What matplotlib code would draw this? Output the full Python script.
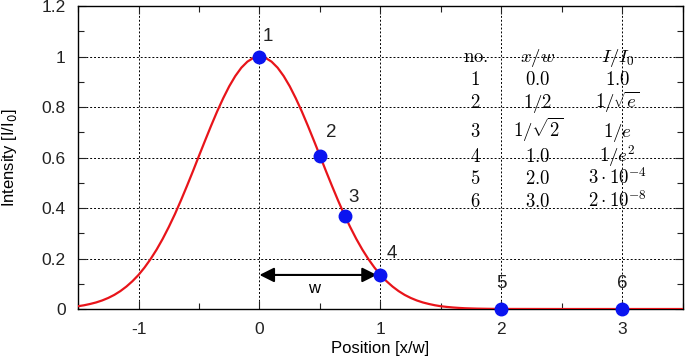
import matplotlib
matplotlib.use("Agg")
import matplotlib.pyplot as plt

# ---- data ----
curve_x = [-1.5, -1.45, -1.4, -1.35, -1.3, -1.25, -1.2, -1.15, -1.1, -1.05,
           -1.0, -0.95, -0.9, -0.85, -0.8, -0.75, -0.7, -0.65, -0.6, -0.55,
           -0.5, -0.45, -0.4, -0.35, -0.3, -0.25, -0.2, -0.15, -0.1, -0.05,
           0.0, 0.05, 0.1, 0.15, 0.2, 0.25, 0.3, 0.35, 0.4, 0.45,
           0.5, 0.55, 0.6, 0.65, 0.7, 0.75, 0.8, 0.85, 0.9, 0.95,
           1.0, 1.05, 1.1, 1.15, 1.2, 1.25, 1.3, 1.35, 1.4, 1.45,
           1.5, 1.55, 1.6, 1.65, 1.7, 1.75, 1.8, 1.85, 1.9, 1.95,
           2.0, 2.5, 3.0, 3.5]
curve_y = [0.011, 0.0149, 0.020, 0.0261, 0.034, 0.0439, 0.056, 0.0710, 0.089, 0.1103,
           0.135, 0.1645, 0.198, 0.2357, 0.278, 0.3247, 0.375, 0.4296, 0.487, 0.5461,
           0.607, 0.6670, 0.726, 0.7827, 0.835, 0.8825, 0.923, 0.9560, 0.980, 0.9950,
           1.000, 0.9950, 0.980, 0.9560, 0.923, 0.8825, 0.835, 0.7827, 0.726, 0.6670,
           0.607, 0.5461, 0.487, 0.4296, 0.375, 0.3247, 0.278, 0.2357, 0.198, 0.1645,
           0.135, 0.1103, 0.089, 0.0710, 0.056, 0.0439, 0.034, 0.0261, 0.020, 0.0149,
           0.011, 0.0082, 0.006, 0.0043, 0.003, 0.0022, 0.0015, 0.0011, 0.0007, 0.0005,
           0.0003, 0.0, 0.0, 0.0]

point_x = [0.0, 0.5, 0.707, 1.0, 2.0, 3.0]
point_y = [1.0, 0.607, 0.368, 0.135, 0.0003, 0.0]
point_labels = ["1", "2", "3", "4", "5", "6"]
label_x = [0.07, 0.59, 0.78, 1.09, 2.0, 3.0]
label_y = [1.08, 0.70, 0.44, 0.22, 0.10, 0.10]

table_header = [r"$\mathrm{no.}$", r"$x/w$", r"$I/I_0$"]
table_no = [r"$1$", r"$2$", r"$3$", r"$4$", r"$5$", r"$6$"]
table_xw = [r"$0.0$", r"$1/2$", r"$1/\sqrt{2}$", r"$1.0$", r"$2.0$", r"$3.0$"]
table_I = [r"$1.0$", r"$1/\sqrt{e}$", r"$1/e$", r"$1/e^2$", r"$3\cdot10^{-4}$", r"$2\cdot10^{-8}$"]

xticks = [-1, 0, 1, 2, 3]
yticks = [0, 0.2, 0.4, 0.6, 0.8, 1.0, 1.2]
ytick_labels = ["0", "0.2", "0.4", "0.6", "0.8", "1", "1.2"]

plt.rcParams['font.family'] = ['Liberation Sans', 'DejaVu Sans']
plt.rcParams['mathtext.fontset'] = 'cm'

fig = plt.figure(figsize=(6.85, 3.61), dpi=100)
ax = fig.add_axes([0.1139, 0.144, 0.883, 0.839])

ax.plot(curve_x, curve_y, color='#e8141a', lw=1.6, zorder=3)
ax.plot(point_x, point_y, 'o', color='#0a14f0', ms=9, zorder=4, clip_on=False)
for lx, ly, t in zip(label_x, label_y, point_labels):
    ax.text(lx, ly, t, fontsize=13.5, ha='center', va='center', color='#222222')

ax.annotate('', xy=(0.0, 0.135), xytext=(0.97, 0.135),
            arrowprops=dict(arrowstyle='<|-|>', color='black', lw=1.5,
                            mutation_scale=22, shrinkA=0, shrinkB=0))
ax.text(0.45, 0.083, 'w', fontsize=12, ha='center', va='center')

# table
col_x = [1.785, 2.30, 2.96]
row_y = [0.977, 0.886, 0.797, 0.683, 0.584, 0.497, 0.406]
for cx, h in zip(col_x, table_header):
    ax.text(cx, row_y[0], h, fontsize=13.5, ha='center', va='baseline')
for i in range(6):
    for cx, col in zip(col_x, [table_no, table_xw, table_I]):
        ax.text(cx, row_y[i + 1], col[i], fontsize=13.5, ha='center', va='baseline')

ax.set_xlim(-1.5, 3.5)
ax.set_ylim(0, 1.2)
ax.set_xticks(xticks)
ax.set_xticklabels([str(t) for t in xticks])
ax.set_yticks(yticks)
ax.set_yticklabels(ytick_labels)
ax.set_xticks([-1.5, -0.5, 0.5, 1.5, 2.5, 3.5], minor=True)
ax.set_yticks([0.1, 0.3, 0.5, 0.7, 0.9, 1.1], minor=True)
ax.tick_params(which='both', direction='in', top=True, right=True, labelsize=12.5, colors='#222222')
ax.tick_params(which='major', length=6, width=0.8, pad=9)
ax.tick_params(which='minor', length=4, width=0.8)
ax.grid(True, which='major', color='black', linestyle=(0, (2, 2)), lw=0.7)
for s in ax.spines.values():
    s.set_linewidth(1.0)

ax.set_xlabel('Position [x/w]', fontsize=12, labelpad=3)
ax.set_ylabel('Intensity [I/I$_0$]', fontsize=12, labelpad=16, math_fontfamily='dejavusans')

fig.savefig('out.png', dpi=100)
